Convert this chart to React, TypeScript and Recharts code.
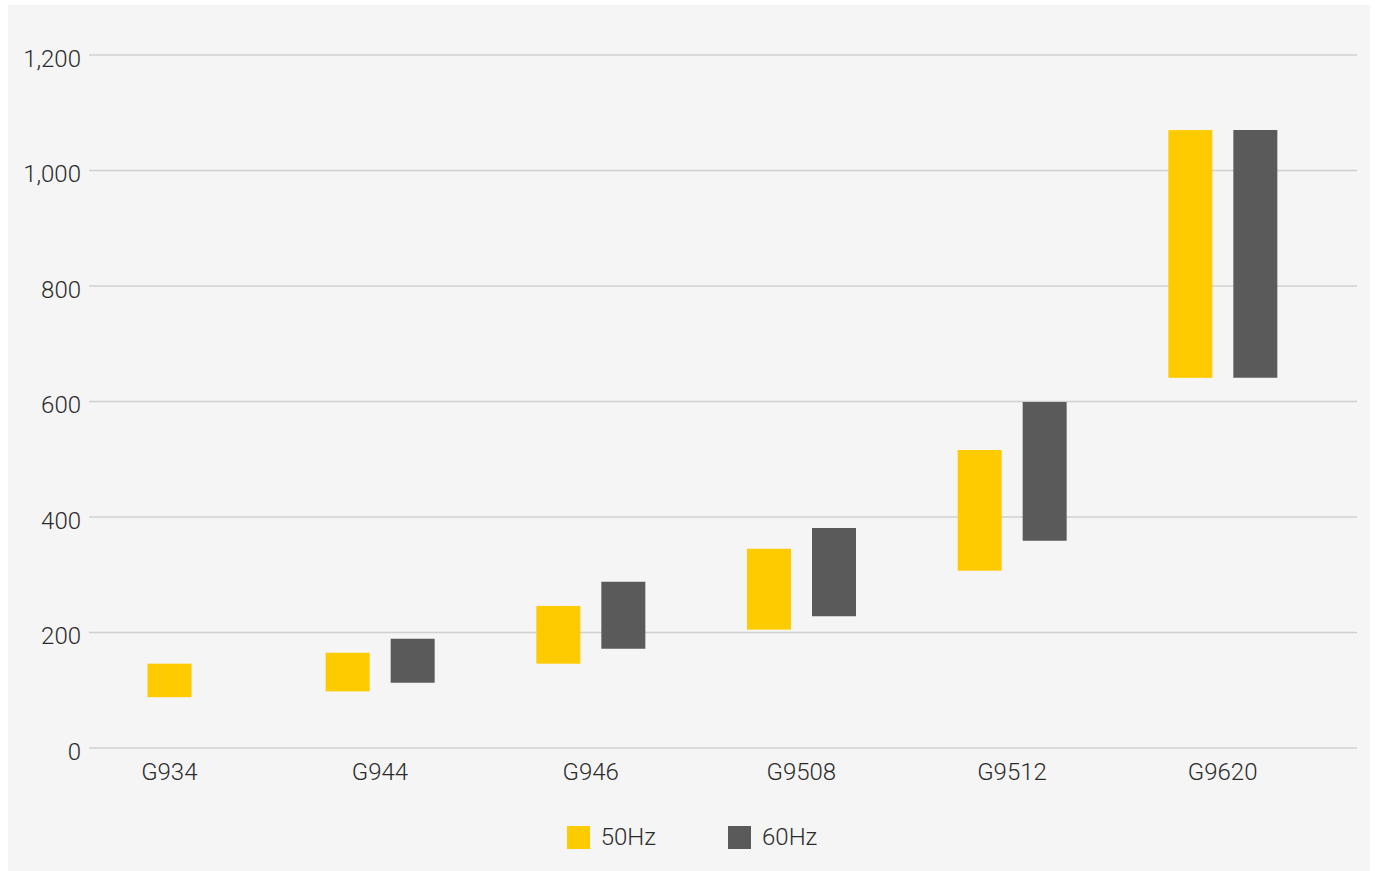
import React from 'react';
import { BarChart, Bar, XAxis, YAxis, CartesianGrid, Legend } from 'recharts';

const categories = ['G934', 'G944', 'G946', 'G9508', 'G9512', 'G9620'];
const hz50Low = [88, 98, 146, 205, 307, 641];
const hz50High = [146, 165, 246, 345, 516, 1070];
const hz60Low: (number | null)[] = [null, 113, 172, 228, 359, 641];
const hz60High: (number | null)[] = [null, 189, 288, 381, 599, 1070];
const yTicks = [0, 200, 400, 600, 800, 1000, 1200];

const seriesNames = ['50Hz', '60Hz'];
const colors = ['#FECB00', '#5A5A5A'];

const data = categories.map((c, i) => ({
  name: c,
  hz50: [hz50Low[i], hz50High[i]],
  hz60: hz60Low[i] == null ? null : [hz60Low[i], hz60High[i]],
}));

const FONT = "Roboto, 'Liberation Sans', Arial, sans-serif";
const WEIGHT = 300;
const TEXT = '#2b2b2b';
const BAR = 44;
const GAP = 21;

const XTick = (props: any) => {
  const { x, y, payload } = props;
  return (
    <text x={x} y={y + 32} textAnchor="middle" fontSize={24} fill={TEXT} fontFamily={FONT} fontWeight={WEIGHT}>
      {payload.value}
    </text>
  );
};

const YTick = (props: any) => {
  const { x, y, payload } = props;
  return (
    <text x={x - 8} y={y + 11.5} textAnchor="end" fontSize={24} fill={TEXT} fontFamily={FONT} fontWeight={WEIGHT}>
      {Number(payload.value).toLocaleString('en-US')}
    </text>
  );
};

const Shape50 = (props: any) => {
  const { x, y, width, height, payload } = props;
  const shift = payload && payload.hz60 == null ? (BAR + GAP) / 2 : 0;
  if (width == null || height == null) return null;
  return <rect x={x + shift} y={y} width={width} height={height} fill={colors[0]} />;
};

const LegendContent = () => (
  <div
    style={{
      display: 'flex',
      justifyContent: 'center',
      alignItems: 'center',
      height: 40,
      fontFamily: FONT,
      fontWeight: WEIGHT,
      fontSize: 24,
      color: TEXT,
      paddingLeft: 8,
    }}
  >
    {seriesNames.map((n, i) => (
      <div key={n} style={{ display: 'flex', alignItems: 'center', marginLeft: i === 0 ? 0 : 72 }}>
        <div style={{ width: 23, height: 23, background: colors[i], marginRight: 11 }} />
        <span>{n}</span>
      </div>
    ))}
  </div>
);

export default function App() {
  return (
    <div style={{ position: 'absolute', left: 8, top: 5, width: 1362, height: 866, background: '#F5F5F5' }}>
      <BarChart
        width={1362}
        height={866}
        data={data}
        margin={{ top: 50, right: 13, left: 11, bottom: 14 }}
        barSize={BAR}
        barGap={GAP}
      >
        <CartesianGrid vertical={false} stroke="#D0D0D0" strokeWidth={1.3} />
        <XAxis
          dataKey="name"
          axisLine={false}
          tickLine={false}
          tickSize={0}
          tickMargin={0}
          height={69}
          padding={{ left: -25, right: 29 }}
          tick={<XTick />}
          interval={0}
        />
        <YAxis
          domain={[0, 1200]}
          ticks={yTicks}
          axisLine={false}
          tickLine={false}
          tickSize={0}
          tickMargin={0}
          width={70}
          tick={<YTick />}
          interval={0}
        />
        <Legend verticalAlign="bottom" height={40} content={<LegendContent />} />
        <Bar dataKey="hz50" name={seriesNames[0]} fill={colors[0]} shape={<Shape50 />} isAnimationActive={false} />
        <Bar dataKey="hz60" name={seriesNames[1]} fill={colors[1]} isAnimationActive={false} />
      </BarChart>
    </div>
  );
}
